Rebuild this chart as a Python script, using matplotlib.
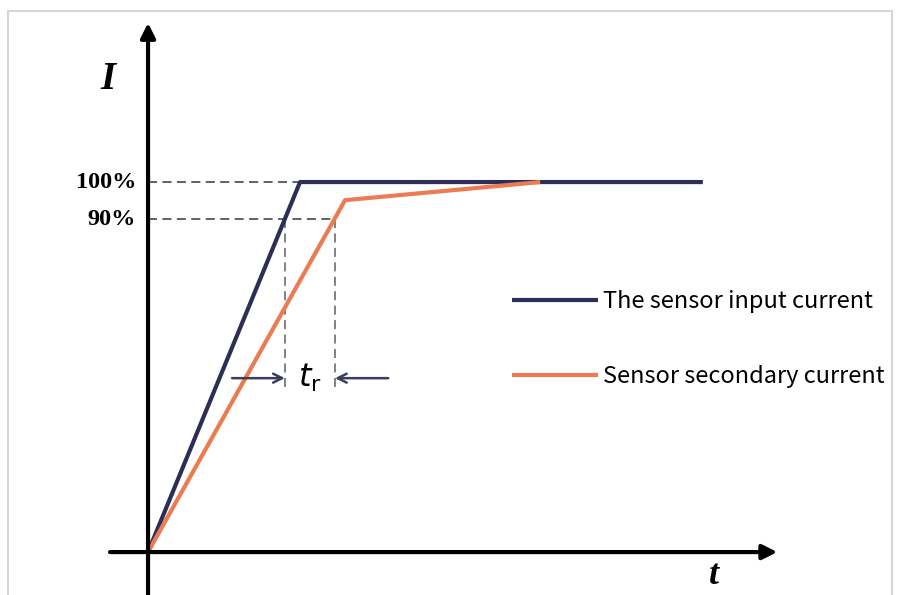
import matplotlib.pyplot as plt
from matplotlib.patches import Rectangle

# time (arbitrary units) and current (% of final value)
input_t = [0, 1.0, 3.65]
input_i = [0, 100, 100]
secondary_t = [0, 1.296, 2.58]
secondary_i = [0, 95.1, 100]

levels = [100, 90]
level_labels = ['100%', '90%']
cross_90 = [0.9, 1.23]  # times where each curve hits 90%

series_labels = ['The sensor input current', 'Sensor secondary current']
blue = '#2c2e55'
orange = '#eb7b51'


def main():
    fig = plt.figure(figsize=(9.1, 5.95), dpi=100)
    fig.patches.append(Rectangle((8 / 910, -0.1), 884 / 910, 1.1 - 11 / 595,
                                 transform=fig.transFigure, fill=False,
                                 edgecolor='#d6d6d6', lw=1.5))
    ax = fig.add_axes([0, 0, 1, 1])
    ax.set_xlim(-0.974, 5.013)
    ax.set_ylim(-11.6, 149.2)
    ax.axis('off')

    # axes with arrows
    ax.annotate('', xy=(0, 143), xytext=(0, -11.6),
                arrowprops=dict(arrowstyle='-|>', lw=3, color='black', mutation_scale=22,
                                shrinkA=0, shrinkB=0))
    ax.annotate('', xy=(4.14, 0), xytext=(-0.25, 0),
                arrowprops=dict(arrowstyle='-|>', lw=3, color='black', mutation_scale=22,
                                shrinkA=0, shrinkB=0))
    ax.text(-0.263, 127.6, 'I', family='Liberation Serif', style='italic', weight='bold',
            fontsize=28, ha='center', va='center')
    ax.text(3.72, -10.8, 't', family='Liberation Serif', style='italic', weight='bold',
            fontsize=26, ha='center', va='bottom')

    # level guides
    ax.plot([0, input_t[1]], [levels[0], levels[0]], ls=(0, (5, 3)), color='#555555', lw=1.3)
    ax.plot([0, cross_90[1]], [levels[1], levels[1]], ls=(0, (5, 3)), color='#555555', lw=1.3)
    for x in cross_90:
        ax.plot([x, x], [levels[1], 44], ls=(0, (5, 3)), color='#777777', lw=1.3)
    for lev, lab in zip(levels, level_labels):
        ax.text(-0.079, lev, lab, family='Liberation Serif', weight='bold', fontsize=17.5,
                ha='right', va='center')

    ax.plot(input_t, input_i, color=blue, lw=3, label=series_labels[0], solid_capstyle='butt')
    ax.plot(secondary_t, secondary_i, color=orange, lw=3, label=series_labels[1],
            solid_capstyle='butt')

    # rise time marker
    ax.annotate('', xy=(cross_90[0], 47), xytext=(0.553, 47),
                arrowprops=dict(arrowstyle='->', lw=1.8, color='#3a3d5c', shrinkA=0, shrinkB=0,
                                mutation_scale=16))
    ax.annotate('', xy=(cross_90[1], 47), xytext=(1.58, 47),
                arrowprops=dict(arrowstyle='->', lw=1.8, color='#3a3d5c', shrinkA=0, shrinkB=0,
                                mutation_scale=16))
    ax.text(1.066, 47, r'$t_{\mathrm{r}}$', fontsize=23, ha='center', va='center',
            family='DejaVu Sans')

    ax.legend(loc='upper left', bbox_to_anchor=(512 / 910, 1 - 290 / 595), frameon=False,
              prop={'family': 'Noto Sans CJK SC', 'size': 17}, handlelength=3.64,
              handletextpad=0.2, labelspacing=2.2, borderpad=0, borderaxespad=0)

    plt.savefig('out.png', dpi=100)


if __name__ == '__main__':
    main()
